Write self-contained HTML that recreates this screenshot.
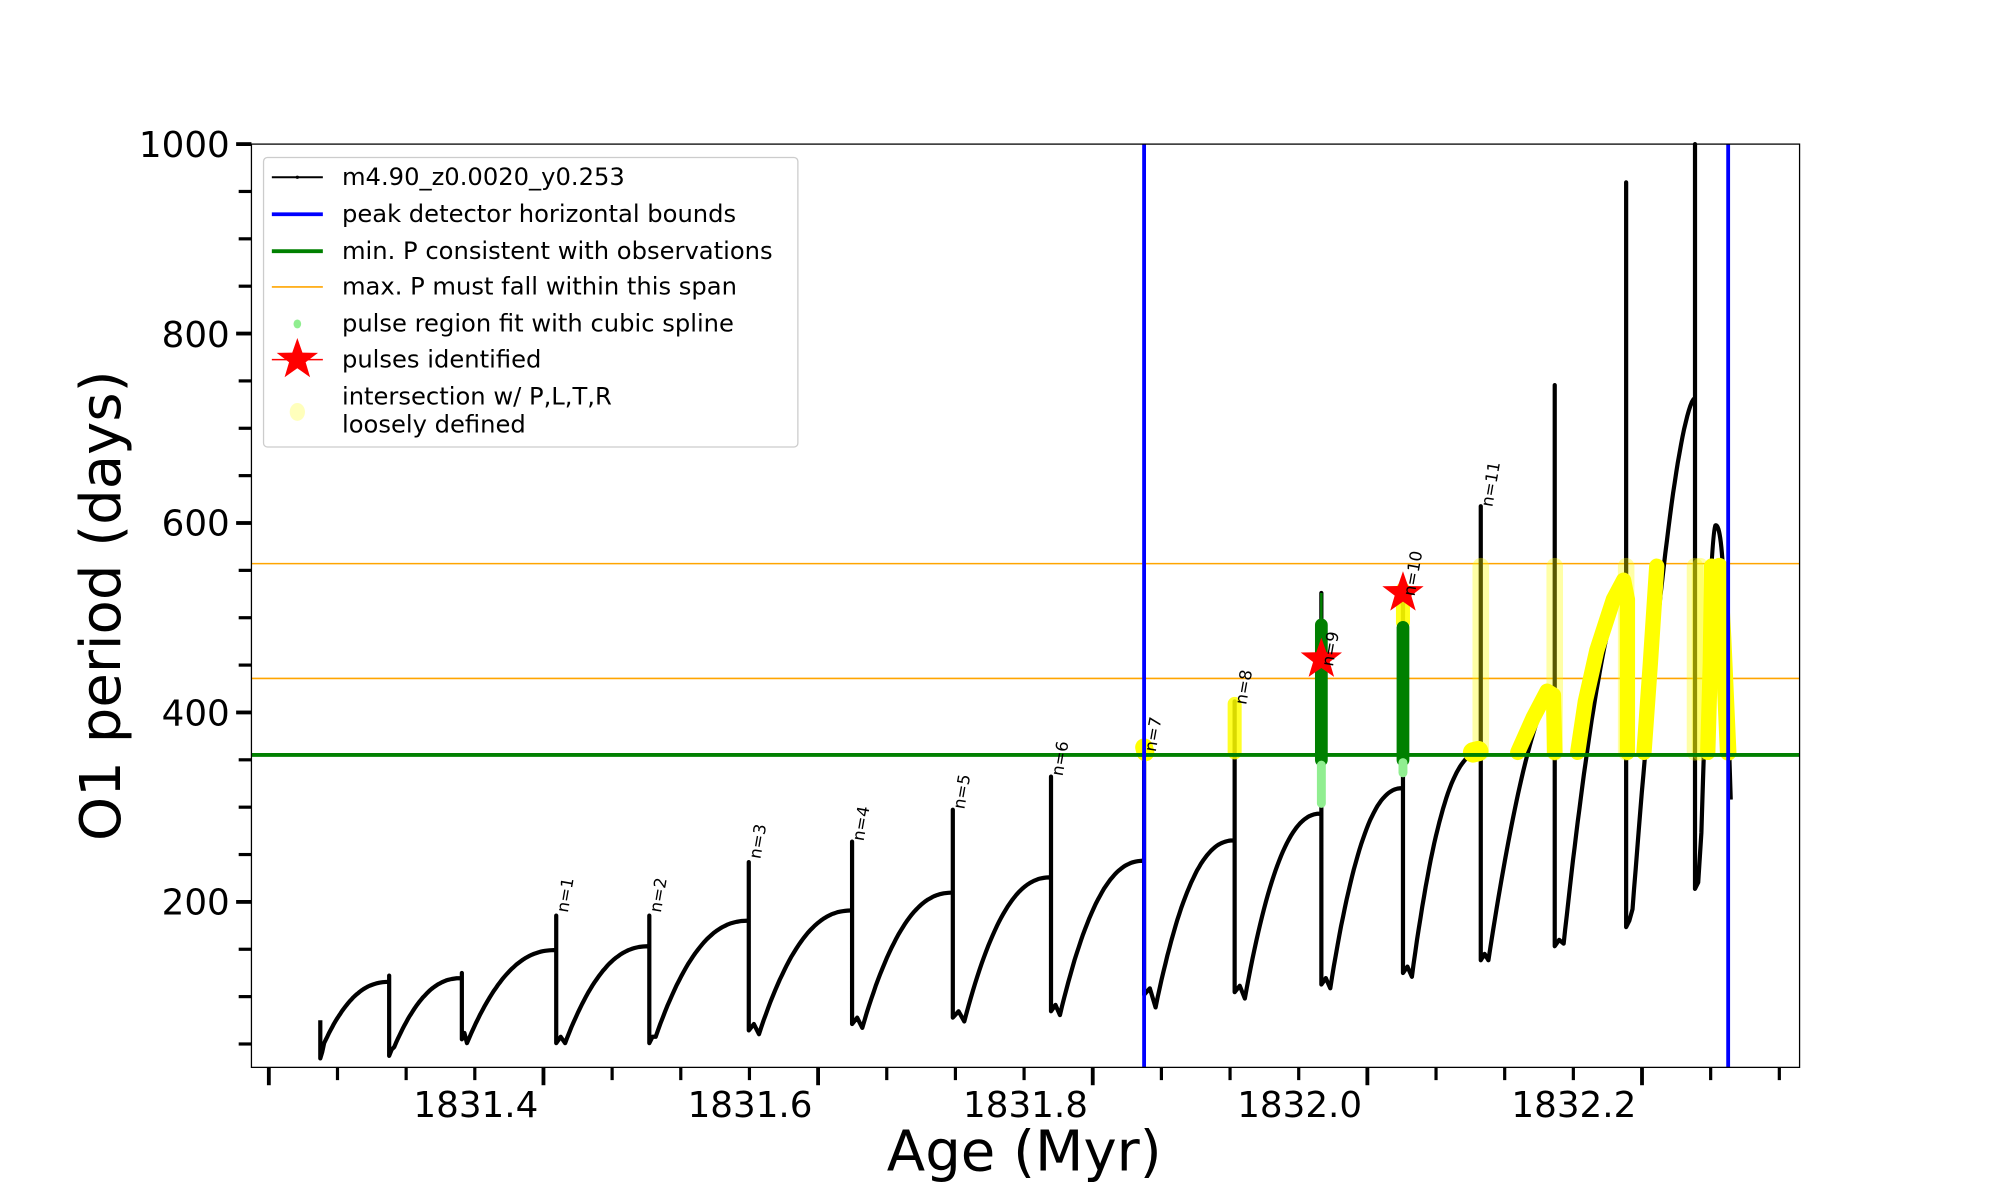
<!DOCTYPE html>
<html><head><meta charset="utf-8">
<style>
html,body{margin:0;padding:0;background:#fff;}
svg{display:block;}
text{font-family:"DejaVu Sans","Liberation Sans",sans-serif;}
</style></head>
<body>
<svg id="s" width="2000" height="1200" viewBox="0 0 1568 941" xmlns="http://www.w3.org/2000/svg">
<rect x="0" y="0" width="1568" height="941" fill="#fff"/>
<g id="plot"></g>
<rect x="197" y="113" width="1214" height="724" fill="none" stroke="#000" stroke-width="1"/>
<g id="ticks"></g>
<rect x="206.5" y="123.5" width="419" height="227" rx="3" fill="#fff" fill-opacity="0.85" stroke="#ccc" stroke-width="1"/>
<g font-size="19" fill="#000">
<line x1="213" y1="139" x2="253" y2="139" stroke="#000" stroke-width="1.5"/><circle cx="233" cy="139" r="1.3"/>
<text x="268" y="145">m4.90_z0.0020_y0.253</text>
<line x1="213" y1="168" x2="253" y2="168" stroke="#0000ff" stroke-width="3"/>
<text x="268" y="174">peak detector horizontal bounds</text>
<line x1="213" y1="197" x2="253" y2="197" stroke="#008000" stroke-width="3"/>
<text x="268" y="203">min. P consistent with observations</text>
<line x1="213" y1="225" x2="253" y2="225" stroke="#ffa500" stroke-width="1.2"/>
<text x="268" y="231">max. P must fall within this span</text>
<ellipse cx="233" cy="254" rx="3" ry="3.5" fill="#90ee90"/>
<text x="268" y="260">pulse region fit with cubic spline</text>
<line x1="213" y1="282" x2="253" y2="282" stroke="#ff0000" stroke-width="1.2"/>
<polygon id="legstar" fill="#ff0000"/>
<text x="268" y="288">pulses identified</text>
<ellipse cx="233" cy="323" rx="6" ry="7" fill="#ffffa0" fill-opacity="0.7"/>
<text x="268" y="317">intersection w/ P,L,T,R</text>
<text x="268" y="339">loosely defined</text>
</g>
<g font-size="28" fill="#000">
<text x="180" y="123" text-anchor="end">1000</text>
<text x="180" y="272" text-anchor="end">800</text>
<text x="180" y="420" text-anchor="end">600</text>
<text x="180" y="569" text-anchor="end">400</text>
<text x="180" y="717" text-anchor="end">200</text>
<text x="373" y="876" text-anchor="middle">1831.4</text>
<text x="588" y="876" text-anchor="middle">1831.6</text>
<text x="804" y="876" text-anchor="middle">1831.8</text>
<text x="1019" y="876" text-anchor="middle">1832.0</text>
<text x="1234" y="876" text-anchor="middle">1832.2</text>
</g>
<text x="803" y="918" font-size="44" text-anchor="middle">Age (Myr)</text>
<text transform="translate(94,475) rotate(-90)" font-size="44" text-anchor="middle">O1 period (days)</text>
</svg>
<script>
var NS="http://www.w3.org/2000/svg";
var plot=document.getElementById('plot'), ticks=document.getElementById('ticks');
function el(p,tag,a){var e=document.createElementNS(NS,tag);for(var k in a)e.setAttribute(k,a[k]);p.appendChild(e);return e;}
function yv(v){return 113+(1000-v)*0.7428;}
function xa(a){return 422+(a-1831.4)*1076.8;}
for(var v=50;v<=1000;v+=50){var y=yv(v);var maj=(v%200==0);
 el(ticks,'line',{x1:197,x2:maj?185:187,y1:y,y2:y,stroke:'#000','stroke-width':maj?3:2.5});}
for(var i=0;i<=22;i++){var a=1831.2+i*0.05;var x=xa(a)+4;if(x<197||x>1411)continue;var maj=(i%4==0);
 el(ticks,'line',{x1:x,x2:x,y1:837,y2:maj?851:847,stroke:'#000','stroke-width':maj?3:2.5});}
function star(cx,cy,R){var r=R*0.4,p=[];for(var i=0;i<10;i++){var ang=-Math.PI/2+i*Math.PI/5;var rr=i%2?r:R;p.push((cx+rr*Math.cos(ang)).toFixed(1)+','+(cy+rr*Math.sin(ang)).toFixed(1));}return p.join(' ');}
document.getElementById('legstar').setAttribute('points',star(233,282,17));
el(plot,'line',{x1:197,x2:1411,y1:442,y2:442,stroke:'#ffa500','stroke-width':1.2});
el(plot,'line',{x1:197,x2:1411,y1:532,y2:532,stroke:'#ffa500','stroke-width':1.2});
var P=[
[251,null,800,830,254,815],
[305,770,765,828,309,818],
[362,767,763,815,366,815],
[436,745,718,818,443,815],
[509,742,718,818,514,810],
[587,722,676,808,595,808],
[668,714,660,803,676,803],
[747,700,635,798,756,798],
[824,688,609,793,831,793],
[897,675,592,780,906,787],
[968,659,550,778,976,780],
[1036,638,465,772,1043,772],
[1100,618,465,763,1107,763],
[1161,590,397,753,1167,750],
[1219,540,302,742,1226,737],
[1275,455,143,727,1280,710],
[1329,312,113,697,1334,650]];
var d='';
for(var i=0;i<P.length;i++){
 var c=P[i];
 if(i==0) d+='M'+c[0]+','+c[2];
 else d+='L'+c[0]+','+c[1]+'L'+c[0]+','+c[2];
 var mid=(c[0]+c[4])/2;
 d+='L'+c[0]+','+c[3]+'L'+(mid).toFixed(1)+','+(c[3]-5)+'L'+c[4]+','+(c[5]+3);
 if(i<P.length-1){var nx=P[i+1][0],ny=P[i+1][1];
  var pw=(i>=13)?1.6:2.3;
  for(var k=1;k<=40;k++){var t=k/40;var f=1-Math.pow(1-t,pw);
   d+='L'+(c[4]+(nx-c[4])*t).toFixed(1)+','+((c[5]+3)+(ny-c[5]-3)*f).toFixed(1);}
 }
}
d+='Q1341,420 1345,412Q1350,410 1352,470L1357,627';
el(plot,'path',{d:d,fill:'none',stroke:'#000','stroke-width':3.3,'stroke-linejoin':'round'});
[1161,1219,1275,1329,1333].forEach(function(x){
 el(plot,'line',{x1:x,x2:x,y1:444,y2:590,stroke:'#ffff00','stroke-opacity':0.35,'stroke-width':13,'stroke-linecap':'round'});});
function Y(pts,w,op){el(plot,'polyline',{points:pts,fill:'none',stroke:'#ffff00','stroke-width':w||12,'stroke-opacity':op||1,'stroke-linecap':'round','stroke-linejoin':'round'});}
Y('897,586 898,590',14);
Y('968,552 968,590',11,0.85);
Y('1155,590 1159,589',16);
Y('1190,590 1202,563 1213,542 1218,545 1219,590',12);
Y('1237,590 1243,550 1252,510 1265,470 1273,455 1276,470 1276,590',12);
Y('1289,590 1294,520 1299,444',12);
Y('1339,590 1341,520 1342,444',12);
Y('1348,444 1351,500 1355,590',13);
el(plot,'line',{x1:1036,x2:1036,y1:465,y2:490,stroke:'#008000','stroke-width':2});
el(plot,'line',{x1:1036,x2:1036,y1:490,y2:596,stroke:'#008000','stroke-width':10,'stroke-linecap':'round'});
el(plot,'line',{x1:1036,x2:1036,y1:600,y2:630,stroke:'#90ee90','stroke-width':7,'stroke-linecap':'round'});
Y('1100,462 1100,488',11,0.9);
el(plot,'line',{x1:1100,x2:1100,y1:492,y2:596,stroke:'#008000','stroke-width':10,'stroke-linecap':'round'});
el(plot,'line',{x1:1100,x2:1100,y1:598,y2:606,stroke:'#90ee90','stroke-width':7,'stroke-linecap':'round'});
el(plot,'line',{x1:197,x2:1411,y1:592,y2:592,stroke:'#008000','stroke-width':3});
el(plot,'line',{x1:897,x2:897,y1:113,y2:837,stroke:'#0000ff','stroke-width':3});
el(plot,'line',{x1:1355,x2:1355,y1:113,y2:837,stroke:'#0000ff','stroke-width':3});
el(plot,'polygon',{points:star(1036,517,17),fill:'#ff0000'});
el(plot,'polygon',{points:star(1100,465,17),fill:'#ff0000'});
var L=[[1,436,718],[2,509,718],[3,587,676],[4,668,662],[5,747,637],[6,824,611],[7,897,592],[8,968,555],[9,1036,525],[10,1100,470],[11,1161,400]];
L.forEach(function(l){var t=el(plot,'text',{transform:'translate('+(l[1]+9)+','+(l[2]-2)+') rotate(-80)','font-size':13,fill:'#000'});t.textContent='n='+l[0];});
</script>
</body></html>
